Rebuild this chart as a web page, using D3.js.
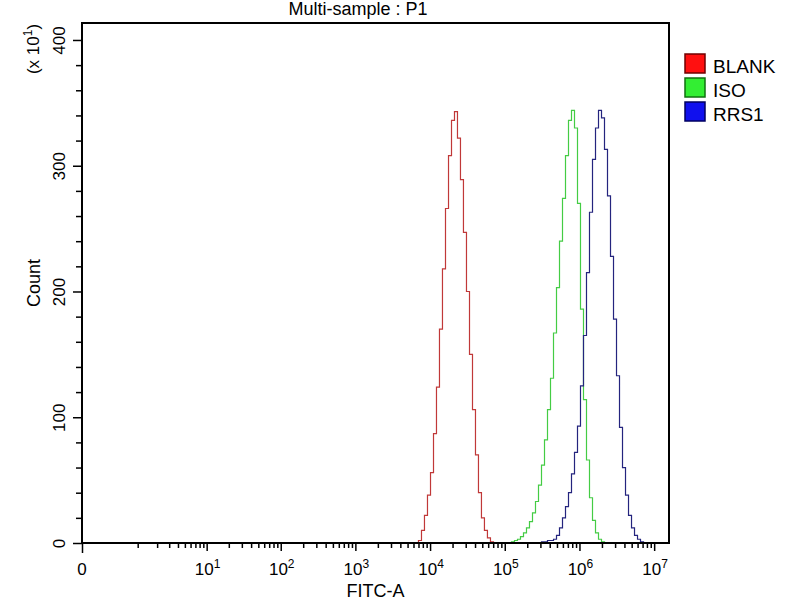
<!DOCTYPE html>
<html>
<head>
<meta charset="utf-8">
<script src="https://cdn.jsdelivr.net/npm/d3@7"></script>
<style>
  html, body { margin: 0; padding: 0; background: #fff; }
  svg { display: block; font-family: "Liberation Sans", Arial, sans-serif; }
</style>
</head>
<body>
<svg id="chart" width="800" height="600"></svg>
<script>
// ---- data (FITC-A channel value, count in units of 10^1) ----
const titleText = "Multi-sample : P1";
const xLabel = "FITC-A";
const yLabel = "Count";
const seriesNames = ["BLANK", "ISO", "RRS1"];
const lineColors = ["#c03838", "#44cc44", "#24247e"];
const swatchFill = ["#ff1010", "#33ee33", "#1010ee"];
const swatchStroke = ["#700000", "#107010", "#000060"];

const xMajorTicks = [0, 1e1, 1e2, 1e3, 1e4, 1e5, 1e6, 1e7];
const xMajorExp = [null, 1, 2, 3, 4, 5, 6, 7];
const xMinorTicks = [1,2,3,4,5,6,7,8,9,20,30,40,50,60,70,80,90,200,300,400,500,600,700,800,900,
  2000,3000,4000,5000,6000,7000,8000,9000,2e4,3e4,4e4,5e4,6e4,7e4,8e4,9e4,
  2e5,3e5,4e5,5e5,6e5,7e5,8e5,9e5,2e6,3e6,4e6,5e6,6e6,7e6,8e6,9e6];
const yMajorTicks = [0, 100, 200, 300, 400];
const yMinorTicks = [20,40,60,80,120,140,160,180,220,240,260,280,320,340,360,380];

const blankX = [6680,7330,8040,8810,9680,10620,11640,12760,14000,15350,16870,18490,20280,22230,
  24380,26730,29310,32210,35320,38730,42460,46560,51050,55980,61380,67450,73960];
const blankY = [0,2,10,22,38,56,87,124,170,218,266,308,336,343,322,289,247,200,150,106,70,40,20,10,4,1,0];

const isoX = [117500,128900,141300,155000,170100,186600,204600,224500,246300,270100,296300,325000,
  356500,391100,428900,470500,516200,566100,620900,681100,747000,819400,898900,985800,
  1081000,1186000,1301000,1427000,1566000,1717000,1884000,2066000,2266000];
const isoY = [0,1,2,3,5,8,12,17,24,33,46,62,82,106,131,167,203,240,274,308,336,344,330,270,186,114,66,36,18,8,3,1,0];

const rrsX = [296300,325000,356500,391100,428900,470500,516200,566100,620900,681100,747000,819400,
  898900,985800,1081000,1186000,1301000,1427000,1566000,1717000,1884000,2066000,2266000,
  2486000,2727000,2992000,3281000,3599000,3948000,4331000,4751000,5212000,5715000,6269000,6877000,7544000];
const rrsY = [0,1,1,2,2,3,6,12,20,29,40,55,72,93,125,165,215,263,305,330,344,338,313,276,228,178,133,92,60,38,22,12,6,3,1,0];

const seriesX = [blankX, isoX, rrsX];
const seriesY = [blankY, isoY, rrsY];

// ---- layout ----
const svg = d3.select("#chart");
const L = 82, R = 669, T = 23, B = 543;

const x = d3.scaleSymlog().constant(0.219).domain([0, 1.58e7]).range([L, R]);
const y = d3.scaleLinear().domain([0, 413.5]).range([B, T]);

// histograms
const line = d3.line().curve(d3.curveStep).x(d => x(d[0])).y(d => y(d[1]));
seriesX.forEach((xs, i) => {
  const pts = xs.map((v, j) => [v, seriesY[i][j]]);
  svg.append("path").attr("d", line(pts)).attr("fill", "none")
    .attr("stroke", lineColors[i]).attr("stroke-width", 1.2);
});

// x axis major
const gxMaj = svg.append("g").attr("transform", `translate(0,${B})`)
  .call(d3.axisBottom(x).tickValues(xMajorTicks).tickSize(8).tickFormat(""));
const gxMin = svg.append("g").attr("transform", `translate(0,${B})`)
  .call(d3.axisBottom(x).tickValues(xMinorTicks).tickSize(5).tickFormat(""));
[gxMaj, gxMin].forEach(g => {
  g.select(".domain").remove();
  g.selectAll("line").attr("stroke", "#000").attr("stroke-width", 1.5);
});
gxMaj.selectAll(".tick").filter(d => d === 0).select("line").attr("y2", 10);

xMajorTicks.forEach((v, i) => {
  const t = svg.append("text").attr("x", x(v) + (i === 0 ? 0 : 1)).attr("y", 575)
    .attr("text-anchor", "middle").attr("font-size", 17).attr("fill", "#000");
  if (xMajorExp[i] === null) {
    t.text("0");
  } else {
    t.append("tspan").text("10");
    t.append("tspan").attr("font-size", 12).attr("dy", -7).text(xMajorExp[i]);
  }
});

// y axis
const gyMaj = svg.append("g").attr("transform", `translate(${L},0)`)
  .call(d3.axisLeft(y).tickValues(yMajorTicks).tickSize(9));
const gyMin = svg.append("g").attr("transform", `translate(${L},0)`)
  .call(d3.axisLeft(y).tickValues(yMinorTicks).tickSize(6).tickFormat(""));
[gyMaj, gyMin].forEach(g => {
  g.select(".domain").remove();
  g.selectAll("line").attr("stroke", "#000").attr("stroke-width", 1.5);
});
gyMaj.selectAll("text")
  .attr("x", null).attr("dy", null)
  .attr("transform", "translate(-17,0) rotate(-90)")
  .attr("text-anchor", "middle")
  .attr("font-size", 17).attr("font-family", "Liberation Sans, Arial, sans-serif")
  .attr("fill", "#000");

// frame
svg.append("rect").attr("x", L).attr("y", T).attr("width", R - L).attr("height", B - T)
  .attr("fill", "none").attr("stroke", "#000").attr("stroke-width", 2);

// title
svg.append("text").attr("x", 358).attr("y", 15).attr("text-anchor", "middle")
  .attr("font-size", 18).attr("fill", "#000").text(titleText);

// axis titles
svg.append("text").attr("x", (L + R) / 2).attr("y", 597).attr("text-anchor", "middle")
  .attr("font-size", 18).attr("fill", "#000").text(xLabel);
svg.append("text").attr("transform", `translate(40,${(T + B) / 2}) rotate(-90)`)
  .attr("text-anchor", "middle").attr("font-size", 18).attr("fill", "#000").text(yLabel);
const mult = svg.append("text").attr("transform", "translate(39,49) rotate(-90)")
  .attr("text-anchor", "middle").attr("font-size", 17).attr("fill", "#000");
mult.append("tspan").text("(x 10");
mult.append("tspan").attr("font-size", 12).attr("dy", -7).text("1");
mult.append("tspan").attr("dy", 7).text(")");

// legend
seriesNames.forEach((name, i) => {
  const yy = 54 + i * 24;
  svg.append("rect").attr("x", 685).attr("y", yy).attr("width", 20).attr("height", 19)
    .attr("fill", swatchFill[i]).attr("stroke", swatchStroke[i]).attr("stroke-width", 1.5);
  svg.append("text").attr("x", 713).attr("y", yy + 19).attr("font-size", 19)
    .attr("fill", "#000").text(name);
});
</script>
</body>
</html>
